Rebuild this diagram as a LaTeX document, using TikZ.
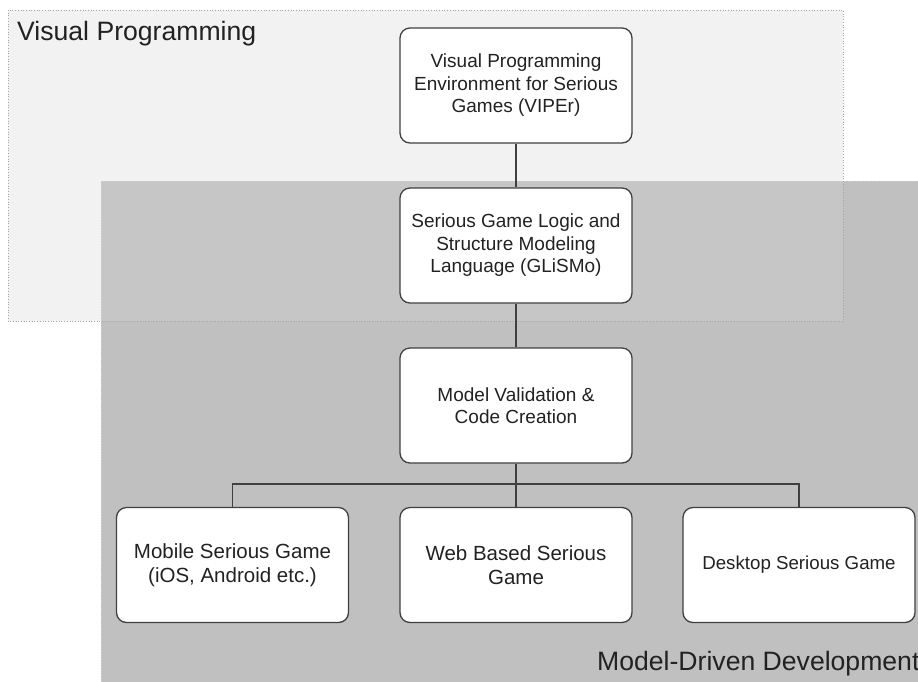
\documentclass[tikz,border=0pt]{standalone}
\usepackage{fontspec}
\setmainfont{Liberation Sans}
\definecolor{mddfill}{HTML}{C0C0C0}
\definecolor{vpfill}{HTML}{D5D5D5}
\definecolor{linec}{HTML}{404040}
\definecolor{textc}{HTML}{222222}
\begin{document}
\begin{tikzpicture}[x=1pt,y=-1pt,
  box/.style={draw=linec, line width=1.3pt, rounded corners=10pt, fill=white,
    minimum width=232pt, minimum height=115pt, align=center, text=textc,
    font=\fontsize{19}{22.5}\selectfont, inner sep=0pt},
  bigtext/.style={font=\fontsize{20.5}{23.5}\selectfont},
  conn/.style={draw=linec, line width=1.5pt},
  regionlabel/.style={text=textc, font=\fontsize{26.6}{30}\selectfont, inner sep=0pt, anchor=base west}]
\useasboundingbox (0,0) rectangle (918,681);
\fill[white] (0,0) rectangle (918,681);
% regions
\path[fill=mddfill, draw=black!18, dotted, line width=0.7pt] (101,181) rectangle (930,695);
\path[fill=vpfill, fill opacity=0.29, draw=black!35, dotted, line width=0.7pt] (8,10) rectangle (843,321);
\node[regionlabel] (vplabel) at (17,40) {Visual Programming};
\node[regionlabel] (mddlabel) at (597,670) {Model-Driven Development};
% boxes
\node[box] (viper) at (516,85.5) {Visual Programming\\Environment for Serious\\Games (VIPEr)};
\node[box] (glismo) at (516,245.5) {Serious Game Logic and\\Structure Modeling\\Language (GLiSMo)};
\node[box] (mv) at (516,405.5) {Model Validation \&\\Code Creation};
\node[box, bigtext] (mobile) at (232.5,565) {Mobile Serious Game\\(iOS, Android etc.)};
\node[box, bigtext] (web) at (516,565) {Web Based Serious\\Game};
\node[box, font=\fontsize{18.7}{22}\selectfont] (desktop) at (799,565) {Desktop Serious Game};
% connectors
\draw[conn] (viper) -- (glismo);
\draw[conn] (glismo) -- (mv);
\draw[conn] (mv) -- (web);
\draw[conn] (mobile.north) -- ++(0,-23) coordinate (busl) -| (desktop.north);
\end{tikzpicture}
\end{document}
